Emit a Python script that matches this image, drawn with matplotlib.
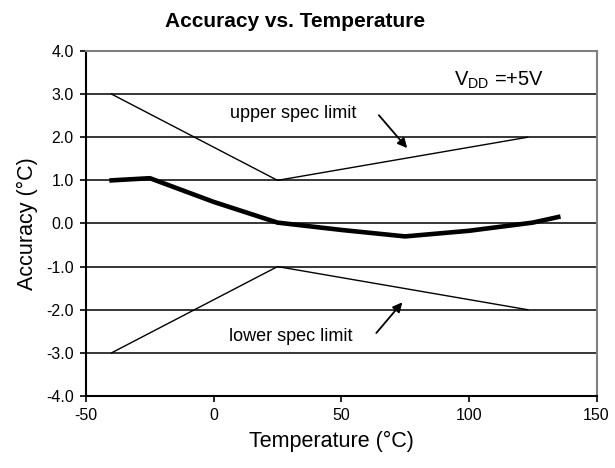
import matplotlib
matplotlib.use("Agg")
import matplotlib.pyplot as plt
from matplotlib.ticker import FormatStrFormatter

plt.rcParams['font.family'] = ['Liberation Sans', 'DejaVu Sans']
plt.rcParams['axes.unicode_minus'] = False

# measured accuracy curve
temp = [-40, -25, 0, 25, 50, 75, 100, 125, 135]
accuracy = [1.0, 1.05, 0.5, 0.02, -0.15, -0.3, -0.17, 0.02, 0.15]

# spec limits
spec_temp = [-40, 25, 123]
upper_spec = [3.0, 1.0, 2.0]
lower_spec = [-3.0, -1.0, -2.0]

fig = plt.figure(figsize=(6.15, 4.68), dpi=100)
ax = fig.add_axes([0.14, 0.154, 0.83, 0.737])

for y in range(-3, 4):
    ax.axhline(y, color='black', linewidth=1.1, zorder=1)

ax.plot(spec_temp, upper_spec, color='black', linewidth=1.0, zorder=2)
ax.plot(spec_temp, lower_spec, color='black', linewidth=1.0, zorder=2)
ax.plot(temp, accuracy, color='black', linewidth=3.3, zorder=3)

ax.set_xlim(-50, 150)
ax.set_ylim(-4, 4)
ax.set_xticks([-50, 0, 50, 100, 150])
ax.set_yticks(range(-4, 5))
ax.yaxis.set_major_formatter(FormatStrFormatter('%.1f'))
ax.tick_params(direction='out', length=4, width=1.2, labelsize=11.5, colors='black', pad=5)

for s in ['top', 'right']:
    ax.spines[s].set_color('#808080')
    ax.spines[s].set_linewidth(1.5)
for s in ['left', 'bottom']:
    ax.spines[s].set_color('black')
    ax.spines[s].set_linewidth(1.5)

ax.set_xlabel('Temperature (°C)', fontsize=15.5, labelpad=6)
ax.set_ylabel('Accuracy (°C)', fontsize=15.5, labelpad=6)
ax.xaxis.set_label_coords(0.48, -0.1)
fig.suptitle('Accuracy vs. Temperature', x=0.48, y=0.975, fontsize=15, fontweight='bold')

ax.text(94, 3.33, r'V$_{\mathregular{DD}}$ =+5V', fontsize=14.5, va='center', ha='left')
ax.text(31, 2.55, 'upper spec limit', fontsize=13, va='center', ha='center')
ax.text(30, -2.62, 'lower spec limit', fontsize=13, va='center', ha='center')

ax.annotate('', xy=(76.5, 1.7), xytext=(64, 2.56),
            arrowprops=dict(arrowstyle='-|>', color='black', lw=1.3, mutation_scale=14))
ax.annotate('', xy=(74.6, -1.78), xytext=(63, -2.59),
            arrowprops=dict(arrowstyle='-|>', color='black', lw=1.3, mutation_scale=14))

fig.savefig('out.png', dpi=100)
